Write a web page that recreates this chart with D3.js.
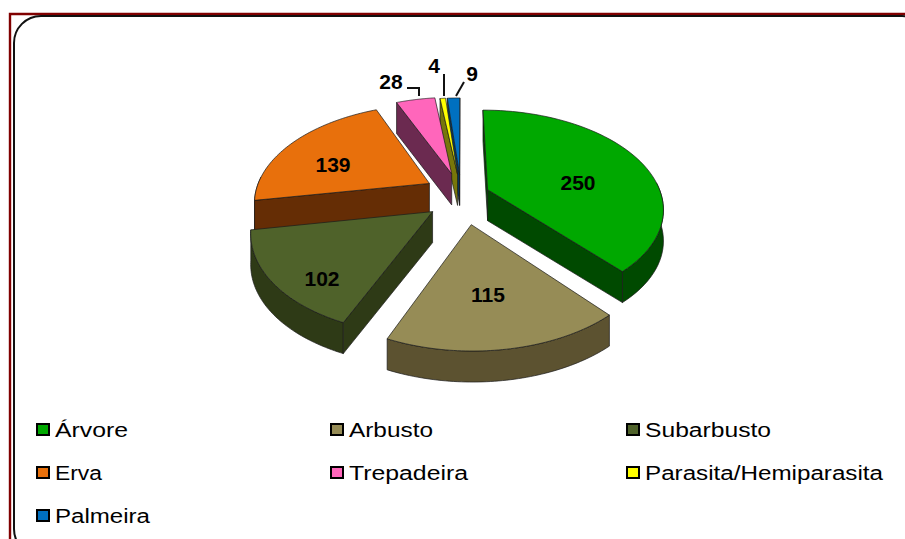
<!DOCTYPE html>
<html><head><meta charset="utf-8">
<script src="https://cdn.jsdelivr.net/npm/d3@7"></script>
<style>html,body{margin:0;background:#fff}svg{display:block}</style></head>
<body><svg id="c" width="905" height="539"></svg>
<script>
const categories=["Árvore","Arbusto","Subarbusto","Erva","Trepadeira","Parasita/Hemiparasita","Palmeira"];
const values=[250,115,102,139,28,4,9];
const topColors=["#00A800","#968C56","#4F622A","#E8700C","#FF66BB","#FFFF00","#0070C0"];
const wallColors=["#004A00","#5C5230","#2E3A16","#652D05","#6B2A50","#77770A","#04385F"];
const drawOrder=[6,5,4,3,0,2,1];
const sliceNudge=[[-3,-4],[6,6],[-1,0],[-2,-8],[0,-9],[1,-8],[1,-8]];
const labelAnchors=[[578,190],[488,302],[322,286],[333,172],[391,89],[434,73],[472,81]];
const legendCols=[36,330,626], legendRows=[423,466,509];
const legendWidths=[73,84,126,47,119,238,95];

const svg=d3.select("#c");
const W=905;
svg.append("path").attr("d",`M10 539V14H${W}`).attr("fill","none").attr("stroke","#800000").attr("stroke-width",2.4);
svg.append("rect").attr("x",14).attr("y",16).attr("width",915).attr("height",540).attr("rx",27).attr("ry",27)
  .attr("fill","#fff").attr("stroke","#111").attr("stroke-width",2);

const pie=d3.pie().sort(null).value(d=>d);
const arcs=pie(values);
const P={cx:460,cy:200,kx:174,ky:96,p:.18,e:.19,depth:31};
const proj=(X,Y,z=0)=>{const s=1/(1-P.p*Y);return [P.cx+P.kx*X*s,P.cy+P.ky*Y*s+z*P.depth];};
const line=d3.line();
const g=svg.append("g");
drawOrder.forEach(i=>{
  const a=arcs[i], mid=(a.startAngle+a.endAngle)/2;
  const ox=P.e*Math.sin(mid), oy=-P.e*Math.cos(mid);
  const angs=d3.range(0,61).map(k=>a.startAngle+(a.endAngle-a.startAngle)*k/60);
  const [nx,ny]=sliceNudge[i];
  const sh=p=>[p[0]+nx,p[1]+ny];
  const pt=(t,z)=>sh(proj(ox+Math.sin(t),oy-Math.cos(t),z));
  const apex=z=>sh(proj(ox,oy,z));
  const face=(pts,fill)=>g.append("path").attr("d",line(pts)+"Z").attr("fill",fill).attr("stroke","#1a1a1a").attr("stroke-width",.7).attr("stroke-linejoin","round");
  const front=angs.filter(t=>Math.cos(t)<0.08);
  if(front.length>1) face(front.map(t=>pt(t,0)).concat(front.slice().reverse().map(t=>pt(t,1))),wallColors[i]);
  if(-Math.cos(a.startAngle-Math.PI/2)>=-0.01) face([apex(0),pt(a.startAngle,0),pt(a.startAngle,1),apex(1)],wallColors[i]);
  if(-Math.cos(a.endAngle+Math.PI/2)>=-0.01) face([apex(0),pt(a.endAngle,0),pt(a.endAngle,1),apex(1)],wallColors[i]);
  face([apex(0)].concat(angs.map(t=>pt(t,0))),topColors[i]);
});
[[[407,88],[419,88],[419,96]],[[444,74],[444,96]],[[464,82],[456,96]]].forEach(l=>
  svg.append("path").attr("d",line(l)).attr("fill","none").attr("stroke","#111").attr("stroke-width",2));
svg.selectAll("text.v").data(values).join("text").attr("class","v")
  .attr("x",(d,i)=>labelAnchors[i][0]).attr("y",(d,i)=>labelAnchors[i][1])
  .attr("text-anchor","middle").attr("font-family","Liberation Sans").attr("font-weight","bold").attr("font-size",21).attr("fill","#000")
  .text(d=>d);
categories.forEach((c,i)=>{
  const x=legendCols[i%3], y=legendRows[Math.floor(i/3)];
  svg.append("rect").attr("x",x+1).attr("y",y+1).attr("width",12).attr("height",11).attr("fill",topColors[i]).attr("stroke","#000").attr("stroke-width",2);
  svg.append("text").attr("x",x+19).attr("y",y+14).attr("font-family","Liberation Sans").attr("font-size",20)
    .attr("textLength",legendWidths[i]).attr("lengthAdjust","spacingAndGlyphs").attr("fill","#000").text(c);
});
</script></body></html>
